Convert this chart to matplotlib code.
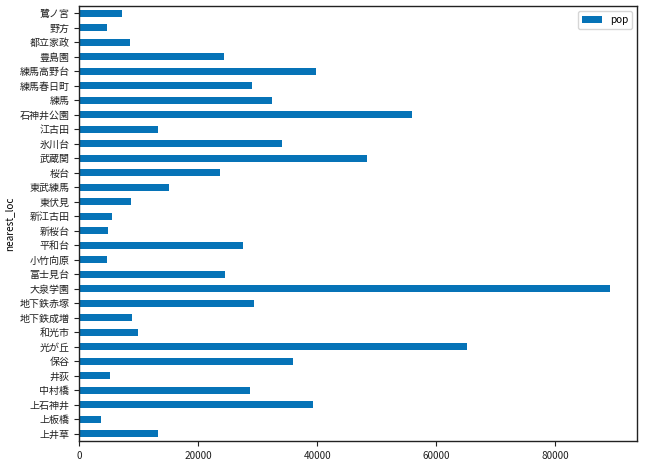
import matplotlib
matplotlib.use("Agg")
import matplotlib.pyplot as plt
import numpy as np

plt.rcParams['font.family'] = ['Noto Sans CJK JP', 'DejaVu Sans']

categories = ["上井草", "上板橋", "上石神井", "中村橋", "井荻", "保谷", "光が丘", "和光市",
              "地下鉄成増", "地下鉄赤塚", "大泉学園", "富士見台", "小竹向原", "平和台", "新桜台",
              "新江古田", "東伏見", "東武練馬", "桜台", "武蔵関", "氷川台", "江古田", "石神井公園",
              "練馬", "練馬春日町", "練馬高野台", "豊島園", "都立家政", "野方", "鷺ノ宮"]
pop = [13200, 3640, 39380, 28640, 5150, 36020, 65220, 9850,
       8840, 29310, 89260, 24450, 4640, 27470, 4870,
       5490, 8670, 15050, 23600, 48440, 34180, 13200, 55870,
       32500, 29140, 39880, 24280, 8500, 4640, 7160]

fig = plt.figure(figsize=(6.55, 4.70), dpi=100)
ax = fig.add_axes([79/655, 1-441/470, (637-79)/655, (441-6)/470])
y = np.arange(len(categories))
ax.barh(y, pop, height=0.5, color='#0673b7', label='pop')
ax.set_yticks(y)
ax.set_yticklabels(categories)
ax.set_ylim(-0.5, len(categories)-0.5)
ax.set_xlim(0, max(pop)*1.05)
ax.set_xticks([0, 20000, 40000, 60000, 80000])
ax.set_ylabel('nearest_loc', fontsize=7.2)
ax.tick_params(labelsize=7.2, length=3.5, width=0.8, colors='#222222')
for s in ax.spines.values():
    s.set_color('#222222')
    s.set_linewidth(1.0)
ax.legend(loc='upper right', fontsize=7.2, frameon=True, edgecolor='#cccccc')
fig.savefig('out.png', dpi=100)
